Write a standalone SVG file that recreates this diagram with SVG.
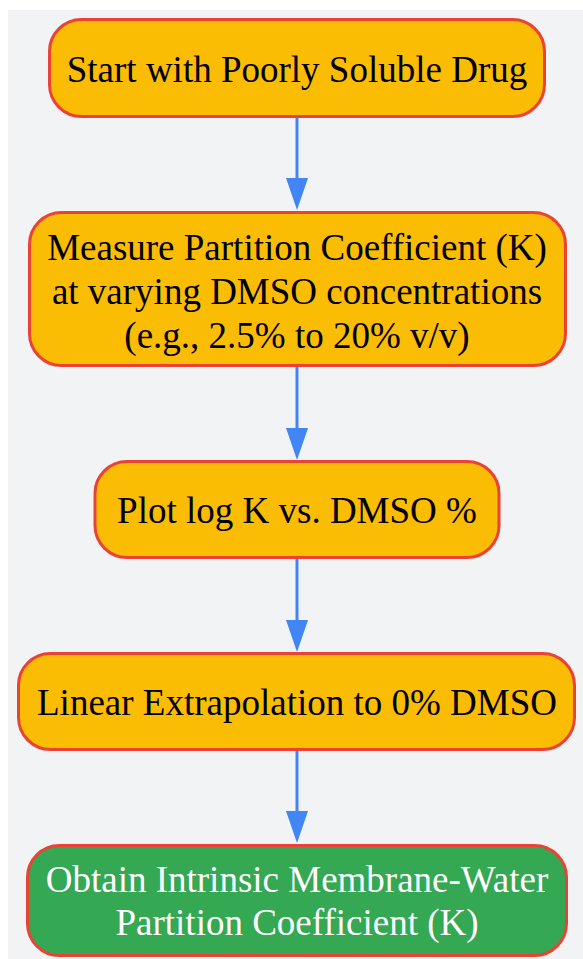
<svg xmlns="http://www.w3.org/2000/svg" width="583" height="959" viewBox="0 0 583 959">
<defs>
<style>
.node rect{stroke:#ea4335;stroke-width:3}
.y rect{fill:#fbbc04}
.g rect{fill:#34a853}
text{font-family:"Liberation Serif","Times New Roman",serif;font-size:37px;text-anchor:middle;fill:#000}
.g text{fill:#fff}
.edge{stroke:#4285f4;stroke-width:3;fill:none}
</style>
<marker id="ah" markerUnits="userSpaceOnUse" markerWidth="32" markerHeight="22" refX="0" refY="11" orient="auto" viewBox="0 0 32 22">
<path d="M0,0 L32,11 L0,22 Z" fill="#4285f4"/>
</marker>
</defs>
<rect x="8" y="10" width="575" height="949" fill="#f1f3f4"/>
<g id="connectors">
<line class="edge" x1="297" y1="118" x2="297" y2="178" marker-end="url(#ah)"/>
<line class="edge" x1="297" y1="367" x2="297" y2="428" marker-end="url(#ah)"/>
<line class="edge" x1="297" y1="559" x2="297" y2="620" marker-end="url(#ah)"/>
<line class="edge" x1="297" y1="751" x2="297" y2="811" marker-end="url(#ah)"/>
</g>
<g id="n1" class="node y">
<rect x="49.5" y="19.5" width="495" height="97" rx="32"/>
<text x="297" y="82">Start with Poorly Soluble Drug</text>
</g>
<g id="n2" class="node y">
<rect x="29.5" y="212.5" width="536" height="153" rx="32"/>
<text x="297" y="260">Measure Partition Coefficient (K)</text>
<text x="297" y="304">at varying DMSO concentrations</text>
<text x="297" y="348">(e.g., 2.5% to 20% v/v)</text>
</g>
<g id="n3" class="node y">
<rect x="95" y="461.5" width="404" height="96" rx="32"/>
<text x="297" y="523">Plot log K vs. DMSO %</text>
</g>
<g id="n4" class="node y">
<rect x="18.5" y="653.5" width="556" height="96" rx="32"/>
<text x="297" y="715">Linear Extrapolation to 0% DMSO</text>
</g>
<g id="n5" class="node g">
<rect x="27.5" y="845.5" width="539" height="110" rx="32"/>
<text x="297" y="892">Obtain Intrinsic Membrane-Water</text>
<text x="297" y="935">Partition Coefficient (K)</text>
</g>
</svg>
